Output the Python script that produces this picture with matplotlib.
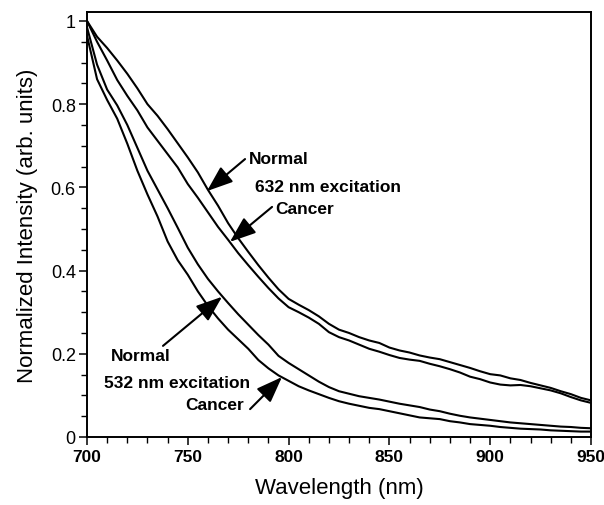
"""Normalized fluorescence spectra, normal vs cancer tissue, 532/632 nm excitation."""

import matplotlib

matplotlib.use("Agg")
import matplotlib.pyplot as plt
import numpy as np
from matplotlib.ticker import MultipleLocator

plt.rcParams["font.family"] = ["Liberation Sans", "DejaVu Sans"]

wavelength = np.arange(700, 951, 5)

normal_632 = [
    1.000, 0.962, 0.935, 0.905, 0.873, 0.838, 0.800, 0.772, 0.740, 0.706,
    0.672, 0.636, 0.594, 0.556, 0.514, 0.478, 0.445, 0.413, 0.383, 0.355,
    0.332, 0.318, 0.305, 0.290, 0.272, 0.258, 0.250, 0.240, 0.232, 0.226,
    0.215, 0.208, 0.203, 0.196, 0.191, 0.187, 0.180, 0.173, 0.166, 0.158,
    0.151, 0.148, 0.141, 0.137, 0.130, 0.124, 0.118, 0.110, 0.103, 0.094,
    0.088,
]
cancer_632 = [
    1.000, 0.950, 0.905, 0.858, 0.820, 0.785, 0.744, 0.712, 0.680, 0.648,
    0.608, 0.575, 0.540, 0.505, 0.474, 0.442, 0.413, 0.385, 0.358, 0.333,
    0.312, 0.300, 0.287, 0.272, 0.252, 0.240, 0.232, 0.222, 0.212, 0.205,
    0.197, 0.190, 0.186, 0.183, 0.176, 0.170, 0.163, 0.155, 0.145, 0.139,
    0.131, 0.126, 0.124, 0.125, 0.122, 0.117, 0.112, 0.105, 0.096, 0.088,
    0.082,
]
normal_532 = [
    0.985, 0.895, 0.835, 0.797, 0.750, 0.695, 0.640, 0.595, 0.550, 0.503,
    0.455, 0.415, 0.380, 0.350, 0.322, 0.295, 0.270, 0.245, 0.222, 0.195,
    0.178, 0.163, 0.148, 0.133, 0.120, 0.110, 0.104, 0.098, 0.094, 0.090,
    0.085, 0.080, 0.076, 0.072, 0.066, 0.062, 0.056, 0.051, 0.047, 0.044,
    0.041, 0.038, 0.035, 0.033, 0.031, 0.029, 0.027, 0.025, 0.024, 0.022,
    0.021,
]
cancer_532 = [
    0.965, 0.860, 0.810, 0.765, 0.705, 0.640, 0.583, 0.530, 0.470, 0.425,
    0.390, 0.350, 0.315, 0.285, 0.258, 0.235, 0.212, 0.185, 0.165, 0.148,
    0.135, 0.122, 0.112, 0.103, 0.094, 0.086, 0.080, 0.075, 0.070, 0.067,
    0.062, 0.057, 0.052, 0.047, 0.045, 0.043, 0.038, 0.035, 0.031, 0.029,
    0.027, 0.024, 0.022, 0.020, 0.019, 0.018, 0.016, 0.015, 0.014, 0.013,
    0.013,
]

fig = plt.figure(figsize=(6.04, 5.06), dpi=100)
ax = fig.add_axes([0.144, 0.1344, 0.8345, 0.84])

for series in (normal_632, cancer_632, normal_532, cancer_532):
    ax.plot(wavelength, series, color="black", linewidth=1.5)

ax.set_xlim(700, 950)
ax.set_ylim(0, 1.0216)
ax.xaxis.set_major_locator(MultipleLocator(50))
ax.xaxis.set_minor_locator(MultipleLocator(10))
ax.yaxis.set_major_locator(MultipleLocator(0.2))
ax.yaxis.set_minor_locator(MultipleLocator(0.05))
ax.set_yticks([0, 0.2, 0.4, 0.6, 0.8, 1.0])
ax.set_yticklabels(["0", "0.2", "0.4", "0.6", "0.8", "1"])
ax.tick_params(axis="both", which="major", direction="out", length=6, width=1.1)
ax.tick_params(axis="both", which="minor", direction="out", length=4, width=1.0)
ax.tick_params(axis="y", labelsize=13, pad=2)
ax.tick_params(axis="x", labelsize=12.5, pad=3)
for lab in ax.get_xticklabels():
    lab.set_fontweight("bold")
for spine in ax.spines.values():
    spine.set_linewidth(1.4)

ax.set_xlabel("Wavelength (nm)", fontsize=16, labelpad=9)
ax.set_ylabel("Normalized Intensity (arb. units)", fontsize=16, labelpad=9)

arrow = dict(arrowstyle="-|>,head_length=0.8,head_width=0.3", color="black",
             lw=1.5, mutation_scale=20, shrinkA=0, shrinkB=0)
ax.annotate("", xy=(759.5, 0.591), xytext=(778.4, 0.668), arrowprops=arrow)
ax.annotate("", xy=(770.9, 0.469), xytext=(791.8, 0.553), arrowprops=arrow)
ax.annotate("", xy=(767.0, 0.337), xytext=(737.7, 0.219), arrowprops=arrow)
ax.annotate("", xy=(796.7, 0.144), xytext=(780.9, 0.067), arrowprops=arrow)

txt = dict(fontsize=12.5, fontweight="bold", va="center", ha="left")
ax.text(780.4, 0.669, "Normal", **txt)
ax.text(783.3, 0.601, "632 nm excitation", **txt)
ax.text(793.3, 0.548, "Cancer", **txt)
ax.text(711.9, 0.197, "Normal", **txt)
ax.text(708.4, 0.132, "532 nm excitation", **txt)
ax.text(748.6, 0.077, "Cancer", **txt)

fig.savefig("out.png", dpi=100)
